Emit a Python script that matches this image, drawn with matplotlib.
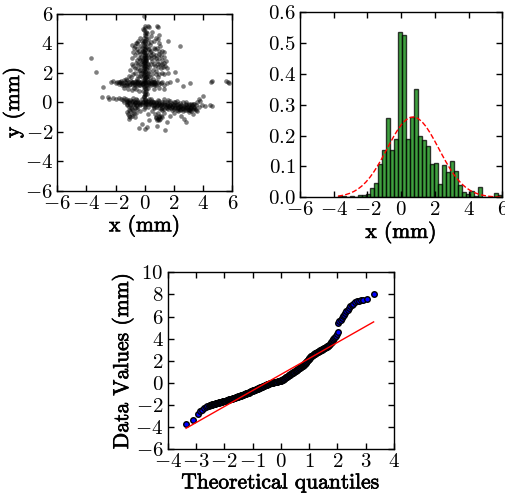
import matplotlib
matplotlib.use("Agg")
import matplotlib.pyplot as plt
import matplotlib.patheffects as pe
import numpy as np

# Computer Modern look
plt.rcParams['font.family'] = 'serif'
plt.rcParams['font.serif'] = ['cmr10']
plt.rcParams['mathtext.fontset'] = 'cm'
plt.rcParams['axes.formatter.use_mathtext'] = True
plt.rcParams['axes.unicode_minus'] = True

# --- scatter of positions (x, y) in mm
scatter_pts = [
    # vertical spine around x = 0
    (-0.05, -0.45), (0.05, -0.3), (0.0, -0.15), (-0.1, 0.0), (0.08, 0.1), (0.0, 0.25),
    (-0.06, 0.4), (0.05, 0.55), (0.0, 0.7), (-0.1, 0.8), (0.1, 0.9), (0.0, 1.0),
    (-0.05, 1.1), (0.06, 1.2), (0.0, 1.3), (-0.08, 1.45), (0.04, 1.55), (0.0, 1.65),
    (0.1, 1.75), (-0.04, 1.85), (0.02, 1.95), (0.0, 2.05), (-0.1, 2.15), (0.08, 2.25),
    (0.0, 2.35), (-0.03, 2.45), (0.05, 2.55), (0.0, 2.65), (-0.08, 2.75), (0.1, 2.85),
    (0.0, 2.95), (0.03, 3.05), (-0.05, 3.15), (0.0, 3.25), (0.06, 3.35), (-0.02, 3.45),
    (0.0, 3.6), (0.08, 3.75), (-0.06, 3.9), (0.0, 4.05), (0.04, 4.2), (-0.05, 4.4),
    (0.02, 4.6), (0.1, 4.8), (-0.1, 5.0), (0.0, 5.2), (-0.03, 5.88),
    (0.12, 0.6), (-0.12, 1.25), (0.15, 1.6), (-0.15, 2.0), (0.14, 2.4), (-0.12, 2.9),
    (0.15, 3.2), (-0.14, 3.5), (0.12, 1.9), (-0.1, 2.6), (0.1, 3.0), (0.02, 1.4),
    (-0.02, 2.2), (0.05, 2.8), (0.0, 0.5), (0.05, 0.0), (-0.05, 3.7), (0.1, 4.3),
    (0.3, 2.4), (-0.3, 2.2),
    (0.03, 0.15), (-0.03, 0.35), (0.07, 0.75), (-0.07, 1.05), (0.03, 1.35), (-0.03, 1.5),
    (0.07, 1.7), (-0.05, 1.8), (0.03, 2.1), (-0.07, 2.3), (0.05, 2.5), (-0.02, 2.7),
    (0.07, 2.9), (-0.05, 3.0), (0.02, 3.2), (-0.07, 3.4), (0.04, 3.55), (0.0, 3.8),
    (-0.04, 4.15), (0.06, 4.5), (0.0, 4.7), (-0.06, 4.9), (0.05, 5.05), (0.18, 2.7),
    (-0.18, 1.7), (0.2, 2.0), (-0.2, 2.8), (0.2, 3.6), (-0.2, 4.2),
    # cloud around the upper spine
    (-0.9, 3.9), (-0.75, 3.7), (-0.6, 4.0), (-0.45, 4.2), (-0.3, 3.8), (-0.5, 3.4),
    (-0.7, 3.2), (-0.85, 3.0), (-0.4, 3.0), (-0.6, 2.7), (-0.3, 2.6), (-0.8, 2.5),
    (-0.5, 2.3), (-0.2, 3.4), (-0.35, 4.4), (-0.15, 4.0), (0.25, 4.3), (0.35, 3.9),
    (0.45, 3.5), (0.3, 3.1), (0.5, 2.8), (0.25, 2.6), (0.55, 2.2), (0.4, 4.5),
    (0.2, 5.2), (0.3, 5.15), (0.15, 4.7), (0.35, 3.4), (-0.25, 3.1), (-0.55, 3.6),
    (0.45, 3.0), (0.6, 3.7), (-0.65, 2.0), (-0.45, 1.8), (0.5, 1.9), (0.35, 1.7),
    (-1.0, 2.2), (-0.9, 2.6), (-0.8, 3.4), (-0.65, 3.8), (-0.5, 4.0), (-0.4, 3.5),
    (-0.35, 2.9), (-0.25, 2.4), (-0.55, 2.9), (-0.7, 2.3), (-0.45, 2.6), (-0.3, 3.3),
    (-0.2, 3.7), (-0.25, 2.0), (-0.4, 2.1), (-0.3, 1.8), (0.2, 1.8), (0.3, 2.1),
    (0.4, 2.6), (0.45, 3.2), (0.3, 3.6), (0.25, 4.0), (0.4, 4.1), (0.55, 3.3),
    (0.6, 2.6), (0.65, 3.1), (0.7, 2.5), (0.7, 3.6), (0.6, 4.2), (0.5, 4.8),
    (0.75, 4.4), (1.2, 3.5), (1.3, 3.1), (1.25, 2.4), (1.45, 2.8), (1.15, 2.6),
    (1.35, 3.4), (0.75, 1.9), (-0.8, 1.9), (-1.1, 1.8),
    # second column near x = 0.9
    (0.82, 5.18), (0.92, 5.12), (0.96, 4.6), (0.88, 4.3), (0.95, 4.0), (0.85, 3.7),
    (1.0, 3.5), (0.8, 3.25), (0.95, 3.0), (0.85, 2.8), (1.05, 2.6), (0.9, 2.4),
    (0.8, 2.15), (1.0, 1.9), (0.9, 1.7), (1.1, 3.2), (1.2, 2.9), (1.3, 2.7),
    (1.1, 2.3), (0.75, 3.0), (1.05, 3.8), (1.15, 2.0), (0.88, 2.6), (0.98, 3.3),
    (1.61, 4.19), (2.42, 3.83), (2.07, 2.08), (1.5, 2.3), (1.6, 2.0), (1.3, 1.9), (1.4, 2.5),
    # horizontal band at y ~ 1.3
    (-2.16, 1.45), (-2.0, 1.3), (-1.9, 1.4), (-1.8, 1.25), (-1.7, 1.35), (-1.6, 1.45),
    (-1.5, 1.3), (-1.45, 1.2), (-1.35, 1.4), (-1.25, 1.3), (-1.2, 1.15), (-1.1, 1.35),
    (-1.0, 1.25), (-0.95, 1.45), (-0.85, 1.3), (-0.8, 1.15), (-0.7, 1.4), (-0.65, 1.25),
    (-0.55, 1.35), (-0.5, 1.2), (-0.45, 1.45), (-0.35, 1.3), (-0.3, 1.15), (-0.25, 1.4),
    (-0.2, 1.25), (0.2, 1.35), (0.25, 1.2), (0.3, 1.45), (0.4, 1.3), (0.45, 1.15),
    (0.5, 1.4), (0.6, 1.25), (0.65, 1.35), (0.7, 1.2), (0.75, 1.45), (1.1, 1.3),
    (1.2, 1.4), (1.35, 1.2), (1.5, 1.3), (1.7, 1.35), (-1.4, 0.95), (-1.15, 0.9),
    (-0.9, 0.85), (-0.6, 0.9), (-0.4, 0.8), (-0.75, 1.0), (-1.3, 1.6), (-0.95, 1.7),
    (-0.55, 1.6), (0.55, 1.6), (0.25, 1.0), (0.6, 0.9), (1.0, 1.0), (1.3, 0.9),
    (-1.55, 1.2), (-1.45, 1.5), (-1.3, 1.2), (-1.2, 1.5), (-1.05, 1.15), (-0.9, 1.4),
    (-0.8, 1.35), (-0.7, 1.2), (-0.6, 1.45), (-0.5, 1.3), (-0.4, 1.15), (-0.3, 1.35),
    (-0.15, 1.3), (0.15, 1.25), (0.3, 1.3), (0.4, 1.45), (0.5, 1.25), (0.6, 1.4),
    (0.7, 1.3), (0.8, 1.2), (0.9, 1.35), (1.0, 1.25), (-1.65, 1.3), (-1.75, 1.4), (-2.3, 1.35),
    (3.1, 1.29), (4.59, 1.43), (4.55, 1.35), (5.55, 1.45), (5.7, 1.38), (5.8, 1.31),
    (2.6, 1.1), (2.2, 1.5),
    # lower band at y ~ 0 sloping down to the right
    (-1.6, 0.25), (-1.5, 0.15), (-1.4, 0.05), (-1.3, 0.2), (-1.2, 0.1), (-1.1, -0.05),
    (-1.0, 0.15), (-0.9, 0.0), (-0.8, 0.1), (-0.7, -0.05), (-0.6, 0.05), (-0.5, 0.15),
    (-0.4, -0.05), (-0.3, 0.05), (-0.2, -0.1), (0.1, -0.05), (0.2, 0.1), (0.3, -0.1),
    (0.4, 0.0), (0.5, -0.15), (0.6, 0.05), (0.7, -0.1), (0.8, 0.0), (0.9, -0.15),
    (1.0, -0.05), (1.1, -0.2), (1.2, -0.1), (1.3, 0.0), (1.4, -0.2), (1.5, -0.1),
    (1.6, -0.25), (1.7, -0.15), (1.8, -0.05), (1.9, -0.25), (2.0, -0.15), (2.1, -0.3),
    (2.2, -0.2), (2.3, -0.35), (2.4, -0.25), (2.5, -0.15), (2.6, -0.35), (2.7, -0.25),
    (2.8, -0.4), (2.9, -0.3), (3.0, -0.2), (3.1, -0.4), (3.2, -0.3), (3.3, -0.45),
    (3.4, -0.3), (3.5, -0.2), (3.6, 0.0), (3.7, 0.2), (3.8, 0.1), (4.01, 0.43),
    (4.13, -0.25), (4.59, -0.25), (4.5, -0.2),
    (-1.0, -0.15), (-0.6, 0.2), (0.0, -0.1), (0.5, 0.1), (1.0, 0.1), (1.5, 0.05),
    (2.0, 0.0), (2.5, -0.45), (3.0, -0.5), (1.2, -0.35), (0.8, -0.3), (2.2, 0.1),
    (2.8, -0.1), (3.3, -0.1), (1.8, -0.4), (0.3, 0.2), (-0.3, -0.2), (1.6, 0.15), (2.6, 0.05),
    (-1.25, 0.0), (-1.15, 0.15), (-1.05, 0.05), (-0.85, 0.1), (-0.75, -0.1), (-0.65, 0.0),
    (-0.45, 0.05), (-0.35, -0.1), (-0.15, 0.0), (0.15, -0.1), (0.25, 0.0), (0.35, -0.05),
    (0.45, -0.1), (0.55, 0.0), (0.65, -0.15), (0.75, -0.05), (0.85, -0.2), (0.95, -0.1),
    (1.05, -0.15), (1.15, 0.0), (1.25, -0.25), (1.35, -0.1), (1.45, -0.3), (1.55, -0.15),
    (1.65, -0.3), (1.75, -0.2), (1.85, -0.3), (1.95, -0.1), (2.05, -0.35), (2.15, -0.2),
    (2.25, -0.3), (2.35, -0.45), (2.45, -0.3), (2.55, -0.25), (2.65, -0.45), (2.75, -0.3),
    (2.85, -0.2), (2.95, -0.45), (3.05, -0.3), (3.15, -0.35), (3.25, -0.2), (3.35, -0.4),
    (3.45, -0.45), (2.3, -0.1), (2.9, -0.55), (3.1, -0.55), (3.2, -0.1), (2.0, -0.45), (1.6, -0.45),
    (-1.4, 0.3), (-1.2, -0.2), (-0.8, 0.3), (-0.5, -0.2), (-0.2, 0.2), (0.2, -0.3),
    (0.4, 0.25), (0.6, -0.3), (0.9, 0.15), (1.1, -0.45), (1.3, 0.2), (1.5, -0.4),
    (1.7, 0.1), (1.9, -0.5), (2.1, 0.05), (2.2, -0.55), (2.4, -0.05), (2.6, -0.6),
    (2.8, 0.0), (3.0, -0.65), (3.2, -0.6), (3.4, -0.1), (3.5, -0.5), (3.7, -0.3),
    (3.9, -0.2), (2.45, -0.5), (2.75, -0.55), (3.05, -0.1), (1.35, -0.45), (0.95, -0.4),
    (-2.85, 1.06), (-2.5, 0.38), (-2.43, 0.2), (-2.2, 0.3), (-2.0, 0.2), (-1.8, 0.3),
    (-3.71, 2.99), (-3.35, 2.08), (-2.9, 0.35),
    # lower clusters
    (-1.1, -0.9), (-1.0, -1.0), (-0.9, -0.8), (-1.2, -0.65), (-0.8, -0.55), (-0.6, -0.75),
    (-1.05, -0.5), (-0.7, -1.0), (-0.5, -0.45), (-0.95, -0.3), (-0.38, -1.77), (-0.2, -1.5),
    (0.0, -1.8), (0.17, -1.66), (0.3, -1.2), (0.2, -0.8), (0.5, -0.6), (0.9, -1.1),
    (1.0, -1.0), (1.1, -0.9), (1.0, -1.2), (0.7, -0.8), (1.3, -0.7), (0.82, -1.61),
    (1.39, -1.88), (1.5, -1.3), (1.7, -0.9), (2.0, -0.7), (2.3, -0.6), (2.5, -0.9),
    (2.83, -1.31), (2.7, -1.1), (3.3, -0.8), (3.6, -0.6), (1.2, -0.5), (0.6, -0.35), (-0.3, -0.6),
    (-1.2, -0.1), (-1.1, -0.3), (-1.0, -0.6), (-0.9, -0.45), (-0.8, -0.2), (-0.7, -0.4),
    (-0.6, -0.15), (-0.5, -0.3), (-1.15, -0.8), (-1.05, -1.1), (-0.85, -0.95), (-0.75, -0.75),
    (0.8, -1.0), (0.85, -1.2), (0.95, -0.95), (1.05, -1.1), (0.75, -1.05), (1.15, -1.0), (0.9, -0.7),
]
scatter_x = np.array([p[0] for p in scatter_pts])
scatter_y = np.array([p[1] for p in scatter_pts])

# --- histogram of x (density), 41 bins
hist_start = -3.75
hist_width = 0.237
hist_density = [0.003, 0.003, 0.0, 0.003, 0.0, 0.006, 0.006, 0.01, 0.03, 0.045,
                0.107, 0.155, 0.258, 0.155, 0.19, 0.535, 0.525, 0.19, 0.26, 0.35,
                0.2, 0.186, 0.166, 0.108, 0.112, 0.043, 0.105, 0.083, 0.117, 0.085,
                0.04, 0.016, 0.011, 0.022, 0.005, 0.032, 0.0, 0.0, 0.0, 0.013, 0.008]
fit_mu = 0.7
fit_sigma = 1.53

# --- Q-Q plot points (theoretical quantile, data value)
qq_theory = [
    -3.35, -3.09, -2.94, -2.84, -2.77, -2.71, -2.65, -2.60, -2.55,
    -2.52, -2.50, -2.48, -2.46, -2.44, -2.42, -2.40, -2.38, -2.36, -2.34, -2.32, -2.30,
    -2.28, -2.26, -2.24, -2.22, -2.20, -2.18, -2.16, -2.14, -2.12, -2.10, -2.08, -2.06,
    -2.04, -2.02, -2.00, -1.98, -1.96, -1.94, -1.92, -1.90, -1.88, -1.86, -1.84, -1.82,
    -1.80, -1.78, -1.76, -1.74, -1.72, -1.70, -1.68, -1.66, -1.64, -1.62, -1.60, -1.58,
    -1.56, -1.54, -1.52, -1.50, -1.48, -1.46, -1.44, -1.42, -1.40, -1.38, -1.36, -1.34,
    -1.32, -1.30, -1.28, -1.26, -1.24, -1.22, -1.20, -1.18, -1.16, -1.14, -1.12, -1.10,
    -1.08, -1.06, -1.04, -1.02, -1.00, -0.98, -0.96, -0.94, -0.92, -0.90, -0.88, -0.86,
    -0.84, -0.82, -0.80, -0.78, -0.76, -0.74, -0.72, -0.70, -0.68, -0.66, -0.64, -0.62,
    -0.60, -0.58, -0.56, -0.54, -0.52, -0.50, -0.48, -0.46, -0.44, -0.42, -0.40, -0.38,
    -0.36, -0.34, -0.32, -0.30, -0.28, -0.26, -0.24, -0.22, -0.20, -0.18, -0.16, -0.14,
    -0.12, -0.10, -0.08, -0.06, -0.04, -0.02, 0.00, 0.02, 0.04, 0.06, 0.08, 0.10,
    0.12, 0.14, 0.16, 0.18, 0.20, 0.22, 0.24, 0.26, 0.28, 0.30, 0.32, 0.34,
    0.36, 0.38, 0.40, 0.42, 0.44, 0.46, 0.48, 0.50, 0.52, 0.54, 0.56, 0.58,
    0.60, 0.62, 0.64, 0.66, 0.68, 0.70, 0.72, 0.74, 0.76, 0.78, 0.80, 0.815,
    0.83, 0.845, 0.86, 0.875, 0.89, 0.905, 0.92, 0.935, 0.95, 0.965, 0.98, 0.995,
    1.01, 1.025, 1.04, 1.06, 1.08, 1.10, 1.12, 1.14, 1.16, 1.18, 1.20, 1.22,
    1.24, 1.26, 1.28, 1.30, 1.32, 1.34, 1.36, 1.38, 1.40, 1.42, 1.44, 1.46,
    1.48, 1.50, 1.52, 1.54, 1.56, 1.58, 1.60, 1.62, 1.64, 1.66, 1.68, 1.70,
    1.72, 1.74, 1.76, 1.78, 1.80, 1.82, 1.84, 1.86, 1.88, 1.91, 1.94, 1.97, 2.01,
    2.03, 2.07, 2.11, 2.15, 2.19, 2.23, 2.27, 2.32, 2.36, 2.40, 2.44, 2.50, 2.56,
    2.62, 2.68, 2.76, 2.84, 2.92, 3.03, 3.28,
]
qq_values = [
    -3.74, -3.36, -2.83, -2.58, -2.42, -2.30, -2.20, -2.12, -2.05,
    -2.02, -2.00, -1.99, -1.97, -1.96, -1.94, -1.93, -1.91, -1.90, -1.88, -1.87, -1.85,
    -1.84, -1.82, -1.81, -1.79, -1.78, -1.76, -1.75, -1.73, -1.72, -1.70, -1.69, -1.67,
    -1.66, -1.64, -1.63, -1.62, -1.60, -1.59, -1.57, -1.56, -1.54, -1.53, -1.51, -1.49,
    -1.48, -1.46, -1.44, -1.42, -1.41, -1.39, -1.37, -1.35, -1.34, -1.32, -1.30, -1.28,
    -1.27, -1.25, -1.23, -1.21, -1.19, -1.18, -1.16, -1.14, -1.12, -1.10, -1.09, -1.07,
    -1.05, -1.03, -1.01, -0.99, -0.97, -0.95, -0.93, -0.91, -0.89, -0.87, -0.85, -0.82,
    -0.80, -0.77, -0.75, -0.73, -0.70, -0.68, -0.66, -0.64, -0.62, -0.60, -0.58, -0.56,
    -0.53, -0.51, -0.49, -0.47, -0.45, -0.43, -0.40, -0.38, -0.36, -0.34, -0.32, -0.30,
    -0.27, -0.25, -0.23, -0.20, -0.18, -0.15, -0.13, -0.10, -0.08, -0.06, -0.04, -0.03,
    -0.01, 0.00, 0.01, 0.02, 0.03, 0.04, 0.05, 0.06, 0.07, 0.08, 0.09, 0.10,
    0.11, 0.13, 0.14, 0.15, 0.16, 0.18, 0.20, 0.23, 0.26, 0.30, 0.33, 0.37,
    0.40, 0.44, 0.47, 0.51, 0.54, 0.58, 0.61, 0.65, 0.68, 0.72, 0.75, 0.79,
    0.82, 0.86, 0.89, 0.93, 0.96, 1.00, 1.03, 1.07, 1.10, 1.14, 1.17, 1.21,
    1.24, 1.28, 1.31, 1.35, 1.38, 1.42, 1.45, 1.49, 1.52, 1.56, 1.60, 1.65,
    1.69, 1.74, 1.78, 1.83, 1.87, 1.92, 1.96, 2.01, 2.05, 2.10, 2.15, 2.20,
    2.24, 2.29, 2.34, 2.39, 2.43, 2.46, 2.50, 2.53, 2.57, 2.60, 2.63, 2.67,
    2.70, 2.73, 2.77, 2.80, 2.83, 2.86, 2.89, 2.92, 2.95, 2.98, 3.01, 3.04,
    3.07, 3.10, 3.13, 3.16, 3.19, 3.22, 3.25, 3.28, 3.31, 3.34, 3.37, 3.40,
    3.45, 3.51, 3.58, 3.66, 3.74, 3.82, 3.90, 3.97, 4.05, 4.15, 4.27, 4.40, 4.60,
    5.44, 5.58, 5.72, 5.88, 6.02, 6.16, 6.30, 6.48, 6.62, 6.78, 6.92, 7.02, 7.12,
    7.35, 7.42, 7.45, 7.48, 7.52, 7.56, 8.01,
]
qq_slope = 1.45
qq_intercept = 0.76

tick_fs = 15
label_fs = 15.5


def style(ax):
    ax.tick_params(direction='in', top=True, right=True, length=4, width=1,
                   labelsize=tick_fs, pad=3)
    for sp in ax.spines.values():
        sp.set_linewidth(1)


heavy = [pe.withStroke(linewidth=0.5, foreground='k')]
label_font = dict(size=label_fs)

fig = plt.figure(figsize=(5.06, 4.95), dpi=100)

# top-left: scatter
ax1 = fig.add_axes([0.1132, 0.6147, 0.3458, 0.357])
ax1.scatter(scatter_x, scatter_y, s=11, c='k', alpha=0.5, linewidths=0)
ax1.set_xlim(-6, 6)
ax1.set_ylim(-6, 6)
ax1.set_xticks(np.arange(-6, 7, 2))
ax1.set_yticks(np.arange(-6, 7, 2))
ax1.set_xlabel('x (mm)', fontdict=label_font, labelpad=1, path_effects=heavy)
ax1.set_ylabel('y (mm)', fontdict=label_font, labelpad=0, path_effects=heavy)
style(ax1)

# top-right: histogram with normal fit
ax2 = fig.add_axes([0.5929, 0.6014, 0.3998, 0.3737])
edges = hist_start + hist_width * np.arange(len(hist_density) + 1)
ax2.bar(edges[:-1], hist_density, width=hist_width, align='edge',
        color='green', alpha=0.75, edgecolor='k', linewidth=1)
pdf = np.exp(-(edges - fit_mu) ** 2 / (2 * fit_sigma ** 2)) / (fit_sigma * np.sqrt(2 * np.pi))
ax2.plot(edges, pdf, 'r--', lw=1)
ax2.set_xlim(-6, 6)
ax2.set_ylim(0, 0.6)
ax2.set_xticks(np.arange(-6, 7, 2))
ax2.set_yticks(np.arange(0, 0.61, 0.1))
ax2.set_xlabel('x (mm)', fontdict=label_font, labelpad=1, path_effects=heavy)
style(ax2)

# bottom: Q-Q plot
ax3 = fig.add_axes([0.3314, 0.0923, 0.4472, 0.3576])
ax3.plot(qq_theory, qq_values, 'o', markerfacecolor='b', markeredgecolor='k',
         markersize=4.0, markeredgewidth=1)
qx = np.array([min(qq_theory), max(qq_theory)])
ax3.plot(qx, qq_intercept + qq_slope * qx, 'r-', lw=1)
ax3.set_xlim(-4, 4)
ax3.set_ylim(-6, 10)
ax3.set_xticks(np.arange(-4, 5, 1))
ax3.set_yticks(np.arange(-6, 11, 2))
ax3.set_xlabel('Theoretical quantiles', fontdict=label_font, labelpad=1, path_effects=heavy)
ax3.set_ylabel('Data Values (mm)', fontdict=label_font, labelpad=1, path_effects=heavy)
style(ax3)

fig.savefig('out.png', dpi=100)
